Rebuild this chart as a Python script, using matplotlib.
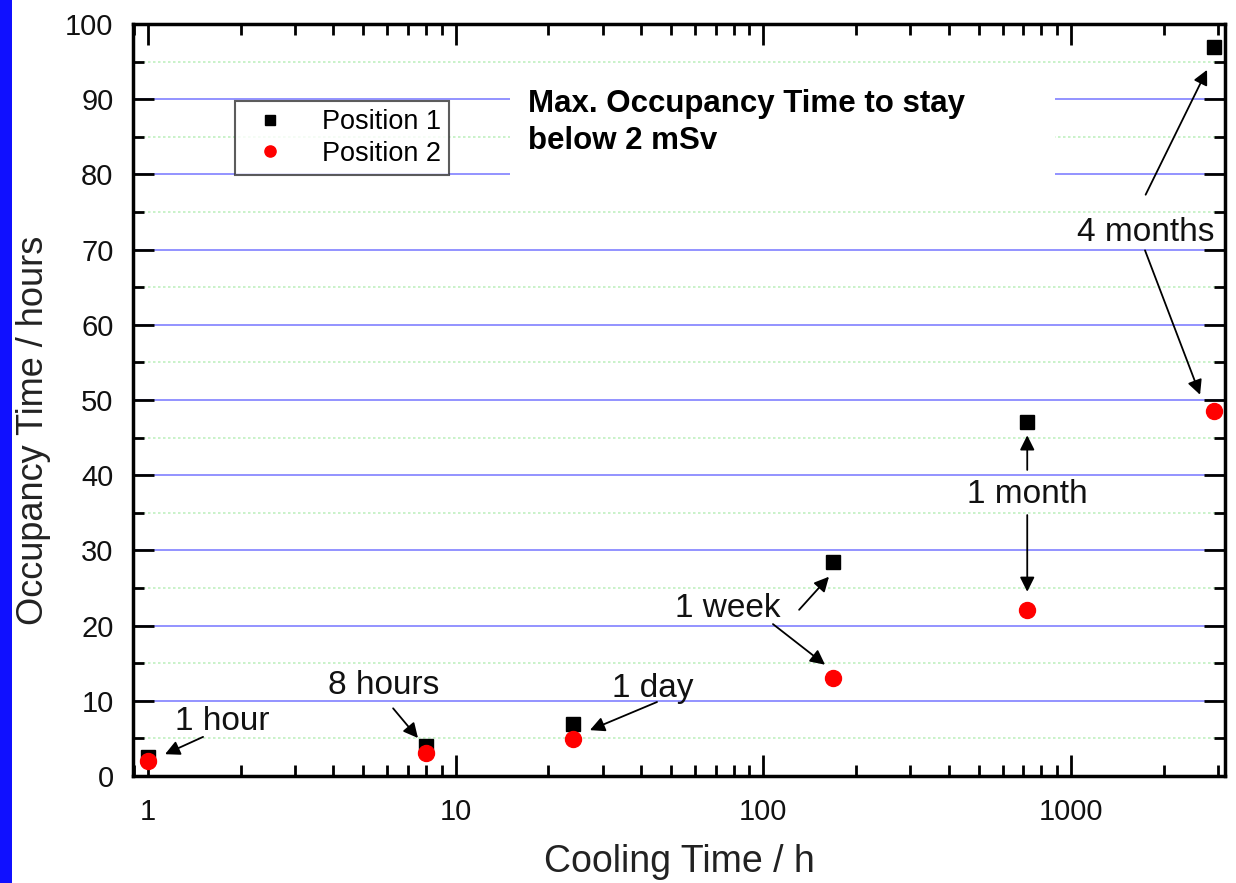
import matplotlib
matplotlib.use("Agg")
import matplotlib.pyplot as plt
from matplotlib.ticker import LogLocator, MultipleLocator, FixedLocator, NullFormatter
from matplotlib.patches import Rectangle

plt.rcParams['font.family'] = ['Liberation Sans', 'DejaVu Sans']

cooling_h = [1, 8, 24, 168, 720, 2920]
pos1 = [2.5, 4.0, 6.9, 28.5, 47.1, 96.9]
pos2 = [2.0, 3.1, 4.9, 13.0, 22.1, 48.5]
x_ticks = [1, 10, 100, 1000]
x_ticklabels = ["1", "10", "100", "1000"]
y_ticks = [0, 10, 20, 30, 40, 50, 60, 70, 80, 90, 100]

W, H = 1236, 883
fig = plt.figure(figsize=(W / 100, H / 100), dpi=100)
fig.patch.set_facecolor("white")
fig.add_artist(Rectangle((0, 0), 12 / W, 1, transform=fig.transFigure,
                         facecolor="#1010ff", edgecolor="none"))

ax = fig.add_axes([133 / W, 1 - 776 / H, (1225 - 133) / W, (776 - 24) / H])
ax.set_xscale("log")
ax.set_xlim(10 ** -0.0487, 10 ** 3.5)
ax.set_ylim(0, 100)

# grid
for y in range(10, 100, 10):
    ax.axhline(y, color="#8a8aff", lw=1.3, zorder=0)
for y in range(5, 100, 10):
    ax.axhline(y, color="#c0f0c0", lw=1.2, ls=(0, (1.5, 1.5)), zorder=0)

ax.plot(cooling_h, pos1, ls="none", marker="s", ms=10, color="black",
        label="Position 1", zorder=3)
ax.plot(cooling_h, pos2, ls="none", marker="o", ms=11.5, color="red",
        mec="red", label="Position 2", zorder=4)

ax.xaxis.set_major_locator(FixedLocator(x_ticks))
ax.set_xticklabels(x_ticklabels)
ax.xaxis.set_minor_locator(LogLocator(base=10, subs=range(2, 10), numticks=20))
ax.xaxis.set_minor_formatter(NullFormatter())
ax.set_yticks(y_ticks)
ax.yaxis.set_minor_locator(MultipleLocator(5))

ax.tick_params(which="both", direction="in", top=True, right=True, width=2,
               colors="black", labelcolor="#111111")
ax.tick_params(which="major", length=15, labelsize=21)
ax.tick_params(axis="x", which="major", pad=16)
ax.tick_params(axis="y", which="major", pad=14)
ax.tick_params(which="minor", length=8)
for s in ax.spines.values():
    s.set_linewidth(2.5)

ax.set_xlabel("Cooling Time / h", fontsize=27, color="#222222", labelpad=13)
ax.set_ylabel("Occupancy Time / hours", fontsize=26, color="#222222")
ax.yaxis.set_label_coords(-(133 - 51) / 1092, 1 - (430 - 24) / 752)

leg = ax.legend(loc="upper left", bbox_to_anchor=((235 - 133) / 1092, 1 - (101 - 24) / 752),
                fontsize=19.5, frameon=True, fancybox=False, edgecolor="#333333",
                markerscale=0.7, handletextpad=0.9, borderpad=0.3, labelspacing=0.2,
                borderaxespad=0)
leg.get_frame().set_linewidth(1.5)

# title box (white, no border)
ax.add_patch(Rectangle(((510 - 133) / 1092, 1 - (197 - 24) / 752), (1055 - 510) / 1092,
                       (197 - 67) / 752, transform=ax.transAxes, facecolor="white",
                       edgecolor="none", zorder=1))
ax.text((528 - 133) / 1092, 1 - (89 - 24) / 752, "Max. Occupancy Time to stay\nbelow 2 mSv",
        transform=ax.transAxes, fontsize=22.5, fontweight="bold", va="top", ha="left",
        linespacing=1.3, zorder=2)

akw = dict(arrowstyle="-|>", color="black", lw=1.3, mutation_scale=22, shrinkA=0, shrinkB=0)
tkw = dict(fontsize=24, ha="center", va="center", color="#111111")

ax.text(1.74, 7.2, "1 hour", **tkw)
ax.annotate("", xy=(1.136, 2.9), xytext=(1.51, 5.2), arrowprops=akw)
ax.text(5.85, 12.0, "8 hours", **tkw)
ax.annotate("", xy=(7.54, 5.05), xytext=(6.26, 9.0), arrowprops=akw)
ax.text(43.8, 11.7, "1 day", **tkw)
ax.annotate("", xy=(27.3, 6.1), xytext=(45.1, 9.84), arrowprops=akw)
ax.text(76.7, 22.3, "1 week", **tkw)
ax.annotate("", xy=(163.3, 26.5), xytext=(130.6, 22.1), arrowprops=akw)
ax.annotate("", xy=(158.6, 14.8), xytext=(107.4, 20.2), arrowprops=akw)
ax.text(720, 37.5, "1 month", **tkw)
ax.annotate("", xy=(720, 45.3), xytext=(720, 40.7), arrowprops=akw)
ax.annotate("", xy=(720, 24.5), xytext=(720, 34.7), arrowprops=akw)
ax.text(1751, 72.3, "4 months", **tkw)
ax.annotate("", xy=(2765, 93.9), xytext=(1746, 77.3), arrowprops=akw)
ax.annotate("", xy=(2624, 50.7), xytext=(1738, 69.9), arrowprops=akw)

fig.savefig("out.png", dpi=100)
